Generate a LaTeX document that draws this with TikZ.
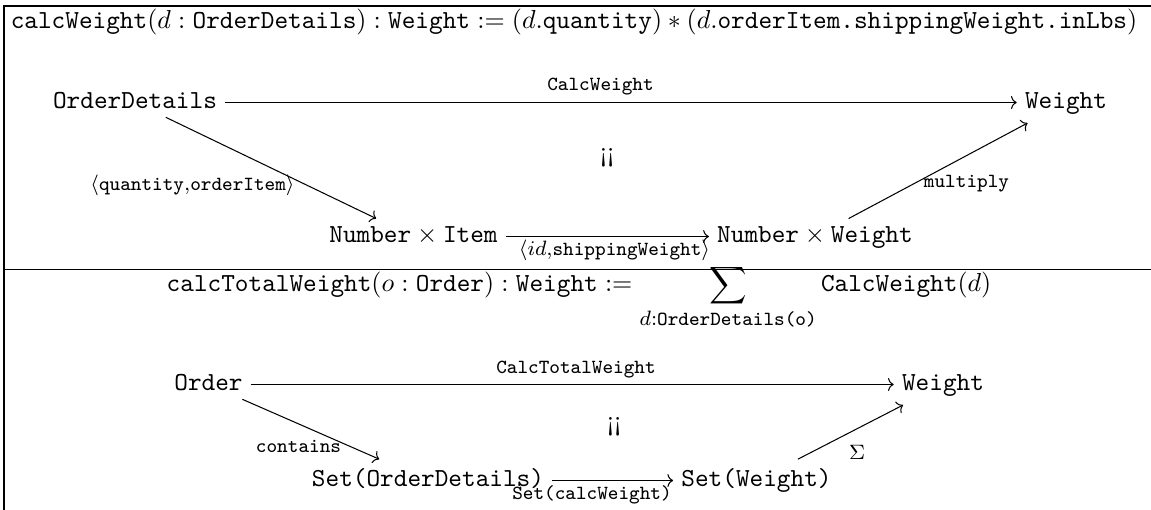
\documentclass[tikz,border=0pt]{standalone}
\usepackage{amsmath}
\usepackage{fontspec}
\usetikzlibrary{arrows.meta}
\DeclareMathSizes{10}{10}{7.7}{5}
\begin{document}
\begin{tikzpicture}[x=0.3846pt, y=-0.3846pt,
  obj/.style={inner sep=3pt, text height=6.2pt, text depth=1.2pt, anchor=base},
  lbl/.style={inner sep=0pt, anchor=base},
  arr/.style={-{To[length=2.2pt,width=5pt]}, line width=0.4pt},
  rulestroke/.style={line width=0.4pt}]
\useasboundingbox (0,0) rectangle (1151,510);

% ---- first row: calcWeight ----
\node[anchor=base, inner sep=0pt] (t1) at (574,29)
  {$\texttt{calcWeight}(d:\texttt{OrderDetails}):\texttt{Weight}:=(d.\texttt{quantity})\ast(d.\texttt{orderItem.shippingWeight.inLbs})$};

\node[obj, text height=5pt, text depth=0pt] (od) at (135,109) {\texttt{OrderDetails}};
\node[obj, text height=7.2pt, text depth=2.2pt] (w1) at (1066,109) {\texttt{Weight}};
\node[obj] (ni) at (413.5,243) {$\texttt{Number}\times\texttt{Item}$};
\node[obj] (nw) at (815,243) {$\texttt{Number}\times\texttt{Weight}$};
\node (c1) at (607,157.5) {¡¡};

\draw[arr] (od) -- (w1);
\draw[arr] (od) -- (ni);
\draw[arr] (ni) -- (nw);
\draw[arr] (nw) -- (w1);

\node[lbl] (l1) at (600.5,91) {$\scriptstyle\texttt{CalcWeight}$};
\node[lbl] (l2) at (192.5,191) {$\scriptstyle\langle\texttt{quantity},\texttt{orderItem}\rangle$};
\node[lbl] (l3) at (614.5,256) {$\scriptstyle\langle id,\texttt{shippingWeight}\rangle$};
\node[lbl] (l4) at (966.5,188) {$\scriptstyle\texttt{multiply}$};

% ---- second row: calcTotalWeight ----
\node[anchor=base, inner sep=0pt] (t2) at (579,292)
  {$\displaystyle\texttt{calcTotalWeight}(o:\texttt{Order}):\texttt{Weight}:=\sum\limits_{d:\texttt{OrderDetails(o)}}\texttt{CalcWeight}(d)$};

\node[obj, text height=5pt, text depth=0pt] (o) at (208.5,391) {\texttt{Order}};
\node[obj, text height=7.2pt, text depth=2.2pt] (w2) at (943,391) {\texttt{Weight}};
\node[obj, text height=7.5pt, text depth=2.5pt] (so) at (428,487) {\texttt{Set(OrderDetails)}};
\node[obj, text height=7.5pt, text depth=2.5pt] (sw) at (756.5,487) {\texttt{Set(Weight)}};
\node (c2) at (614,427) {¡¡};

\draw[arr] (o) -- (w2);
\draw[arr] (o) -- (so);
\draw[arr] (so) -- (sw);
\draw[arr] (sw) -- (w2);

\node[lbl] (l5) at (576,373.5) {$\scriptstyle\texttt{CalcTotalWeight}$};
\node[lbl] (l6) at (298.5,453) {$\scriptstyle\texttt{contains}$};
\node[lbl] (l7) at (592,500) {$\scriptstyle\texttt{Set(calcWeight)}$};
\node[lbl] (l8) at (857,460) {$\scriptstyle\Sigma$};

% ---- table rules ----
\draw[rulestroke] (4,510) -- (4,6) -- (1151,6);
\draw[rulestroke] (4,269.5) -- (1151,269.5);
\end{tikzpicture}
\end{document}
